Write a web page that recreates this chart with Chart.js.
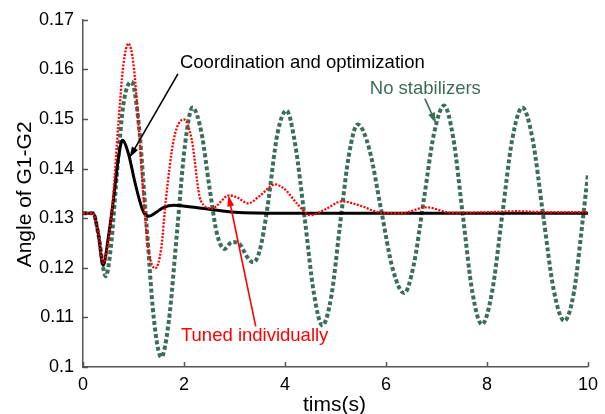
<!DOCTYPE html>
<html>
<head>
<meta charset="utf-8">
<script src="https://cdn.jsdelivr.net/npm/chart.js@4.4.1/dist/chart.umd.min.js"></script>
<style>
  html, body { margin: 0; padding: 0; background: #fff; }
  #wrap { width: 605px; height: 414px; }
</style>
</head>
<body>
<div id="wrap"><canvas id="chart" width="605" height="414"></canvas></div>
<script>
// time (s) and angle values
const tBlack = [0, 0.2, 0.3, 0.4, 0.5, 0.6, 0.7, 0.78, 0.9, 1.02, 1.12, 1.2, 1.3, 1.45, 1.6, 1.8, 2.1, 2.5, 3.0, 4.0, 10];
const yBlack = [0.131, 0.131, 0.127, 0.1205, 0.126, 0.1336, 0.142, 0.1457, 0.143, 0.1376, 0.1336, 0.1312, 0.1304, 0.1312, 0.1322, 0.1326, 0.1323, 0.1318, 0.1312, 0.131, 0.131];

const tRed = [0, 0.2, 0.3, 0.4, 0.5, 0.59, 0.7, 0.8, 0.9, 1.0, 1.1, 1.2, 1.3, 1.43, 1.55, 1.64, 1.8, 2.0, 2.15, 2.33, 2.55, 2.9, 3.05, 3.27, 3.5, 3.8, 4.0, 4.25, 4.5, 4.8, 5.13, 5.5, 5.9, 6.3, 6.8, 7.3, 8.0, 8.6, 9.2, 10];
const yRed = [0.131, 0.131, 0.127, 0.121, 0.125, 0.1336, 0.149, 0.161, 0.1652, 0.161, 0.149, 0.134, 0.1235, 0.1199, 0.124, 0.1336, 0.146, 0.1499, 0.146, 0.1336, 0.132, 0.1346, 0.1342, 0.133, 0.1345, 0.1368, 0.1358, 0.1328, 0.1306, 0.1318, 0.1334, 0.1325, 0.1311, 0.131, 0.1322, 0.1311, 0.1312, 0.1314, 0.1312, 0.1312];

const tGreen = [0, 0.2, 0.3, 0.45, 0.55, 0.68, 0.8, 0.96, 1.1, 1.25, 1.4, 1.55, 1.7, 1.86, 2.02, 2.17, 2.35, 2.5, 2.65, 2.8, 2.95, 3.1, 3.25, 3.37, 3.5, 3.65, 3.85, 4.03, 4.2, 4.39, 4.57, 4.74, 4.92, 5.09, 5.27, 5.44, 5.67, 5.9, 6.13, 6.36, 6.55, 6.75, 6.95, 7.15, 7.33, 7.52, 7.71, 7.9, 8.1, 8.3, 8.5, 8.7, 8.9, 9.11, 9.32, 9.53, 9.72, 9.9, 10];
const yGreen = [0.131, 0.131, 0.127, 0.1183, 0.124, 0.140, 0.153, 0.1575, 0.1494, 0.1298, 0.110, 0.102, 0.1093, 0.127, 0.1448, 0.1523, 0.147, 0.1365, 0.127, 0.1238, 0.1252, 0.1248, 0.1222, 0.1211, 0.1235, 0.132, 0.147, 0.1517, 0.145, 0.130, 0.115, 0.1084, 0.1144, 0.1287, 0.143, 0.1489, 0.1439, 0.1319, 0.1199, 0.1149, 0.1206, 0.1338, 0.147, 0.1527, 0.1463, 0.1307, 0.1151, 0.1086, 0.1151, 0.1305, 0.1459, 0.1523, 0.1461, 0.1308, 0.1156, 0.1093, 0.115, 0.130, 0.139];

const xTicks = [0, 2, 4, 6, 8, 10];
const yTicks = [0.1, 0.11, 0.12, 0.13, 0.14, 0.15, 0.16, 0.17];

const xTitle = 'tims(s)';
const yTitle = 'Angle of G1-G2';

// callouts, in data units (text anchor + arrow tail/head)
const notes = [
  { text: 'Coordination and optimization', color: '#000', tx: 1.92, ty: 0.1613, from: [1.88, 0.1591], to: [0.92, 0.1422] },
  { text: 'No stabilizers', color: '#3b6e57', tx: 5.68, ty: 0.1561, from: [6.77, 0.1541], to: [6.99, 0.1491] },
  { text: 'Tuned individually', color: '#ff0000', tx: 1.94, ty: 0.1062, from: [3.42, 0.1082], to: [2.88, 0.1346] }
];

const FONT = "'Liberation Sans', Arial, sans-serif";

function pts(ts, ys) {
  return ts.map((t, i) => ({ x: t, y: ys[i] }));
}

function arrow(ctx, x1, y1, x2, y2, color) {
  const ang = Math.atan2(y2 - y1, x2 - x1);
  const len = 11, half = 3.5;
  ctx.strokeStyle = color;
  ctx.fillStyle = color;
  ctx.lineWidth = 1.6;
  ctx.beginPath();
  ctx.moveTo(x1, y1);
  ctx.lineTo(x2 - Math.cos(ang) * len * 0.8, y2 - Math.sin(ang) * len * 0.8);
  ctx.stroke();
  ctx.beginPath();
  ctx.moveTo(x2, y2);
  ctx.lineTo(x2 - Math.cos(ang) * len - Math.sin(ang) * half, y2 - Math.sin(ang) * len + Math.cos(ang) * half);
  ctx.lineTo(x2 - Math.cos(ang) * len + Math.sin(ang) * half, y2 - Math.sin(ang) * len - Math.cos(ang) * half);
  ctx.closePath();
  ctx.fill();
}

const extras = {
  id: 'extras',
  afterDraw(chart) {
    const { ctx, chartArea: a, scales: { x, y } } = chart;
    ctx.save();
    // inward tick marks
    ctx.strokeStyle = '#555';
    ctx.lineWidth = 1.5;
    ctx.beginPath();
    yTicks.forEach(v => {
      const py = Math.round(y.getPixelForValue(v)) + 0.5;
      ctx.moveTo(a.left, py);
      ctx.lineTo(a.left + 5, py);
    });
    xTicks.forEach(v => {
      const px = Math.round(x.getPixelForValue(v)) + 0.5;
      ctx.moveTo(px, a.bottom);
      ctx.lineTo(px, a.bottom - 5);
    });
    ctx.stroke();

    // callouts
    ctx.font = '18.5px ' + FONT;
    ctx.textBaseline = 'middle';
    ctx.textAlign = 'left';
    notes.forEach(n => {
      ctx.fillStyle = n.color;
      ctx.fillText(n.text, x.getPixelForValue(n.tx), y.getPixelForValue(n.ty));
      arrow(ctx,
        x.getPixelForValue(n.from[0]), y.getPixelForValue(n.from[1]),
        x.getPixelForValue(n.to[0]), y.getPixelForValue(n.to[1]), n.color);
    });

    // axis titles
    ctx.fillStyle = '#000';
    ctx.textAlign = 'center';
    ctx.font = '21px ' + FONT;
    ctx.fillText(xTitle, (a.left + a.right) / 2 - 1, a.bottom + 38);
    ctx.translate(a.left - 58, (a.top + a.bottom) / 2 + 1);
    ctx.rotate(-Math.PI / 2);
    ctx.fillText(yTitle, 0, 0);
    ctx.restore();
  }
};

new Chart(document.getElementById('chart'), {
  type: 'line',
  data: {
    datasets: [
      {
        label: 'Coordination and optimization',
        data: pts(tBlack, yBlack),
        borderColor: '#000',
        borderWidth: 3,
        order: 2
      },
      {
        label: 'Tuned individually',
        data: pts(tRed, yRed),
        borderColor: '#ff0000',
        borderWidth: 2.3,
        borderDash: [2, 1.5],
        order: 1
      },
      {
        label: 'No stabilizers',
        data: pts(tGreen, yGreen),
        borderColor: '#3b6e57',
        borderWidth: 4,
        borderDash: [4, 2.5],
        order: 3
      }
    ]
  },
  options: {
    responsive: false,
    animation: false,
    layout: { padding: { top: 19, right: 11, left: 0, bottom: 0 } },
    elements: {
      point: { radius: 0 },
      line: { cubicInterpolationMode: 'monotone', fill: false }
    },
    plugins: {
      legend: { display: false },
      tooltip: { enabled: false }
    },
    scales: {
      x: {
        type: 'linear',
        min: 0,
        max: 10,
        afterBuildTicks: s => { s.ticks = xTicks.map(v => ({ value: v })); },
        afterFit: s => { s.height = 47; },
        grid: { display: false, drawTicks: false },
        border: { display: true, color: '#555', width: 1.5 },
        ticks: {
          color: '#000',
          font: { family: FONT, size: 18 },
          padding: 7,
          maxRotation: 0,
          callback: v => String(v)
        }
      },
      y: {
        type: 'linear',
        min: 0.1,
        max: 0.17,
        afterBuildTicks: s => { s.ticks = yTicks.map(v => ({ value: v })); },
        afterFit: s => { s.width = 83; },
        grid: { display: false, drawTicks: false },
        border: { display: true, color: '#555', width: 1.5 },
        ticks: {
          color: '#000',
          font: { family: FONT, size: 18 },
          padding: 9,
          callback: v => String(+v.toFixed(2))
        }
      }
    }
  },
  plugins: [extras]
});
</script>
</body>
</html>
